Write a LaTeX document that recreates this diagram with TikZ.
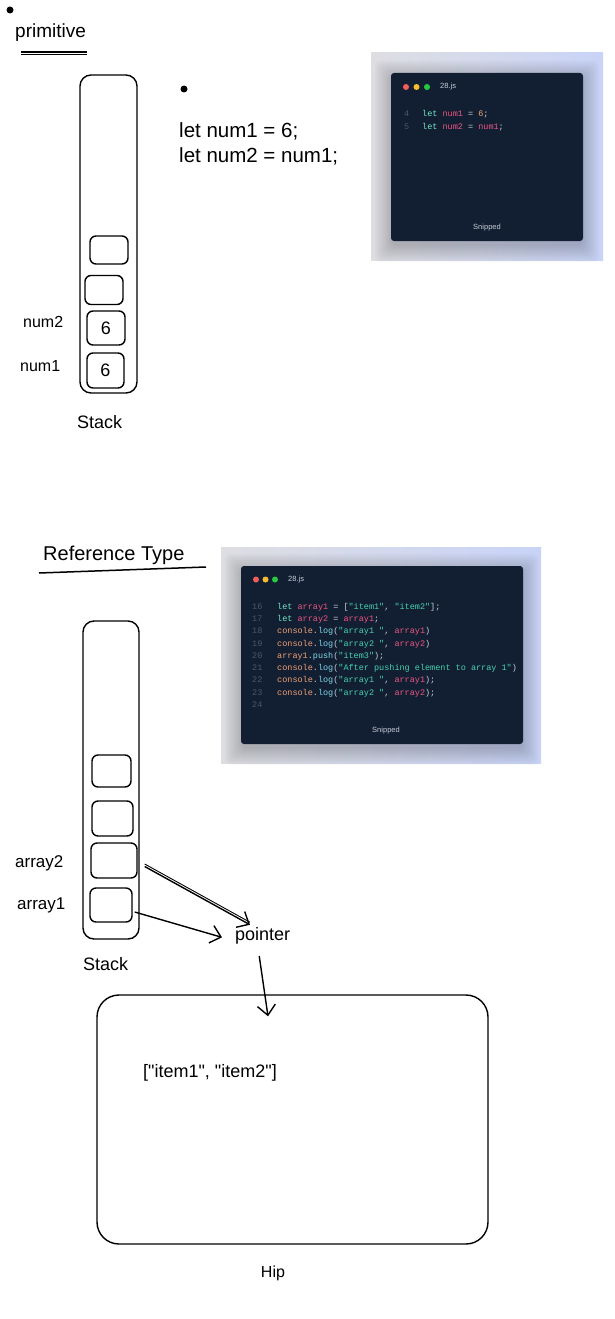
\documentclass[tikz,border=0pt]{standalone}
\usepackage{fontspec}
\setmainfont{Liberation Sans}
\setmonofont{Liberation Mono}
\newfontfamily\zzplain{Liberation Sans}
\usetikzlibrary{arrows.meta}
\definecolor{panel}{HTML}{121F33}
\definecolor{cKw}{HTML}{72E8C4}
\definecolor{cVar}{HTML}{EE5580}
\definecolor{cNum}{HTML}{F7A26A}
\definecolor{cPun}{HTML}{C8CDD8}
\definecolor{cStr}{HTML}{45D3AE}
\definecolor{cObj}{HTML}{F2A072}
\definecolor{cFn}{HTML}{7FD8E6}
\definecolor{cLn}{HTML}{4B5669}
\definecolor{dotR}{HTML}{F25F58}
\definecolor{dotY}{HTML}{F9BC2E}
\definecolor{dotG}{HTML}{28C840}
\definecolor{bgL}{HTML}{DEDEE2}
\definecolor{bgR}{HTML}{C8D3F7}
\newcommand{\zzK}[1]{\textcolor{cKw}{#1}}
\newcommand{\zzV}[1]{\textcolor{cVar}{#1}}
\newcommand{\zzN}[1]{\textcolor{cNum}{#1}}
\newcommand{\zzS}[1]{\textcolor{cStr}{#1}}
\newcommand{\zzO}[1]{\textcolor{cObj}{#1}}
\newcommand{\zzF}[1]{\textcolor{cFn}{#1}}
\begin{document}
\begin{tikzpicture}[x=1pt,y=-1pt,
  hand/.style={font=\fontsize{18}{20}\selectfont, inner sep=0pt, anchor=base west},
  cell/.style={draw, line width=1.4pt, rounded corners=6pt, inner sep=0pt, font=\fontsize{18}{20}\selectfont},
  stackbox/.style={draw, line width=1.4pt, rounded corners=11pt, inner sep=0pt},
  arr/.style={line width=1.4pt, -{Straight Barb[length=10pt,width=18pt,line width=1.4pt]}},
  code/.style={font=\ttfamily\fontsize{8.5}{10}\selectfont, inner sep=0pt, anchor=base west, text=cPun},
  lnum/.style={font=\ttfamily\fontsize{8.5}{10}\selectfont, inner sep=0pt, anchor=base west, text=cLn},
  small/.style={font=\fontsize{7.5}{9}\selectfont, inner sep=0pt, text=cPun},
  bgbox/.style={left color=bgL, right color=bgR, draw=none},
  win/.style={fill=panel, rounded corners=3pt, draw=none}
]
\useasboundingbox[fill=white] (0,0) rectangle (614,1319);

% ---------------- primitive section ----------------
\fill (10,10) circle (3.5);
\node[hand, font=\fontsize{19}{21}\selectfont] (primt) at (15,38) {primitive};
\draw[line width=1.3pt] (21,52) -- (87,52);
\draw[line width=1.3pt] (21,54.5) -- (87,54.5);

\node[stackbox, minimum width=57pt, minimum height=318pt] (st1) at (108.5,234) {};
\node[cell, minimum width=38pt, minimum height=28pt] (p1) at (109,250) {};
\node[cell, minimum width=38pt, minimum height=29pt] (p2) at (104,290) {};
\node[cell, minimum width=38pt, minimum height=34pt] (p3) at (106,328) {6};
\node[cell, minimum width=37pt, minimum height=35pt] (p4) at (105.5,370.5) {6};
\node[hand, font=\fontsize{16}{18}\selectfont] (lnum2) at (23,327) {num2};
\node[hand, font=\fontsize{16}{18}\selectfont] (lnum1) at (20,371) {num1};
\node[hand] (lst1) at (77,428) {Stack};

\fill (184,89) circle (3.5);
\node[hand, font=\fontsize{20.5}{22}\selectfont] (codeA) at (179,137) {let num1 = 6;};
\node[hand, font=\fontsize{20.5}{22}\selectfont] (codeB) at (179,162) {let num2 = num1;};

% snippet 1
\path[bgbox] (371,53) rectangle (603,260);
\foreach \e in {16,14,...,0}
  \fill[black, opacity=0.025, rounded corners=6pt] (391-\e,73-\e+4) rectangle (583+\e,241+\e+5);
\path[win] (391,73) rectangle (583,241);
\fill[dotR] (406,87) circle (3);
\fill[dotY] (416.5,87) circle (3);
\fill[dotG] (427,87) circle (3);
\node[small, anchor=west] (fn1) at (440,87) {28.js};
\node[lnum] (l4) at (404,117) {4};
\node[lnum] (l5) at (404,130) {5};
\node[code] (c4) at (422,117) {\zzK{let} \zzV{num1} = \zzN{6};};
\node[code] (c5) at (422,130) {\zzK{let} \zzV{num2} = \zzV{num1};};
\node[small] (sn1) at (487,228) {Snipped};

% ---------------- reference section ----------------
\node[hand, font=\fontsize{20}{22}\selectfont] (reft) at (43,560) {Reference Type};
\draw[line width=1.5pt] (39,573) -- (206,567);

% snippet 2
\path[bgbox] (221,547) rectangle (541,763);
\foreach \e in {16,14,...,0}
  \fill[black, opacity=0.025, rounded corners=6pt] (241-\e,566-\e+4) rectangle (523+\e,744+\e+5);
\path[win] (241,566) rectangle (523,744);
\fill[dotR] (256,579.5) circle (3);
\fill[dotY] (265.5,579.5) circle (3);
\fill[dotG] (275,579.5) circle (3);
\node[small, anchor=west] (fn2) at (288,580) {28.js};
\node[lnum] (m16) at (252,609) {16};
\node[lnum] (m17) at (252,621.5) {17};
\node[lnum] (m18) at (252,633.5) {18};
\node[lnum] (m19) at (252,646) {19};
\node[lnum] (m20) at (252,658.5) {20};
\node[lnum] (m21) at (252,670.5) {21};
\node[lnum] (m22) at (252,682.5) {22};
\node[lnum] (m23) at (252,695) {23};
\node[lnum] (m24) at (252,707.5) {24};
\node[code] (k16) at (277,609) {\zzK{let} \zzV{array1} = [\zzS{"item1"}, \zzS{"item2"}];};
\node[code] (k17) at (277,621.5) {\zzK{let} \zzV{array2} = \zzV{array1};};
\node[code] (k18) at (277,633.5) {\zzO{console}.\zzF{log}(\zzS{"array1 "}, \zzV{array1})};
\node[code] (k19) at (277,646) {\zzO{console}.\zzF{log}(\zzS{"array2 "}, \zzV{array2})};
\node[code] (k20) at (277,658.5) {\zzO{array1}.\zzF{push}(\zzS{"item3"});};
\node[code] (k21) at (277,670.5) {\zzO{console}.\zzF{log}(\zzS{"After pushing element to array 1"})};
\node[code] (k22) at (277,682.5) {\zzO{console}.\zzF{log}(\zzS{"array1 "}, \zzV{array1});};
\node[code] (k23) at (277,695) {\zzO{console}.\zzF{log}(\zzS{"array2 "}, \zzV{array2});};
\node[small] (sn2) at (386,731) {Snipped};

% stack 2
\node[stackbox, minimum width=56pt, minimum height=318pt] (st2) at (111,780) {};
\node[cell, minimum width=39pt, minimum height=32pt] (q1) at (111.5,771) {};
\node[cell, minimum width=41pt, minimum height=35pt] (q2) at (112.5,818.5) {};
\node[cell, minimum width=46pt, minimum height=35pt] (q3) at (114,860.5) {};
\node[cell, minimum width=42pt, minimum height=34pt] (q4) at (111,905) {};
\node[hand, font=\fontsize{17}{19}\selectfont] (la2) at (15,867) {array2};
\node[hand, font=\fontsize{17}{19}\selectfont] (la1) at (17,909) {array1};
\node[hand] (lst2) at (83,970) {Stack};

\node[hand] (ptr) at (235,940) {pointer};

% heap
\node[draw, line width=1.4pt, rounded corners=22pt, minimum width=391pt, minimum height=249pt, inner sep=0pt] (hip) at (292.5,1119.5) {};
\node[hand, font=\zzplain\fontsize{18}{20}\selectfont] (arrv) at (143,1077) {["item1", "item2"]};
\node[hand, font=\fontsize{16}{18}\selectfont, anchor=base] (lhip) at (273,1277) {Hip};

% connectors
\draw[arr] ([xshift=7pt,yshift=-6pt]q3.east) -- ([xshift=15pt,yshift=2pt]ptr.north west);
\draw[line width=0.9pt] ([xshift=7pt,yshift=-3.5pt]q3.east) -- ([xshift=15pt,yshift=4.5pt]ptr.north west);
\draw[arr] ([xshift=2pt,yshift=-7pt]q4.east) -- ([xshift=-13pt,yshift=-2pt]ptr.west);
\draw[arr] ([xshift=-3.5pt,yshift=-12pt]ptr.south) -- ([xshift=-24.5pt,yshift=-22pt]hip.north);
\end{tikzpicture}
\end{document}
